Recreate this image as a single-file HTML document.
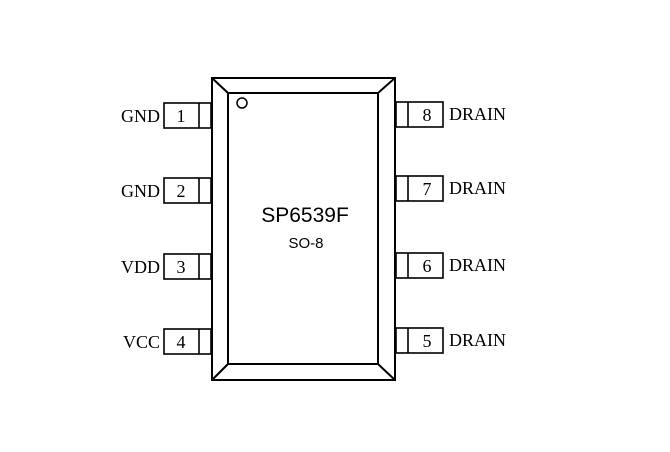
<!DOCTYPE html>
<html><head><style>body{margin:0;background:#fff}</style></head><body>
<svg width="670" height="452" xmlns="http://www.w3.org/2000/svg" style="display:block">
<g fill="none" stroke="#000" stroke-width="2">
<rect x="212" y="78" width="183" height="302"/>
<rect x="228" y="93" width="150" height="271"/>
<line x1="212" y1="78" x2="228" y2="93"/>
<line x1="395" y1="78" x2="378" y2="93"/>
<line x1="212" y1="380" x2="228" y2="364"/>
<line x1="395" y1="380" x2="378" y2="364"/>
<circle cx="242" cy="103" r="5" stroke-width="1.5"/>
<g stroke-width="1.6">
<rect x="164" y="103" width="47" height="25"/><line x1="199" y1="103" x2="199" y2="128"/>
<rect x="164" y="178" width="47" height="25"/><line x1="199" y1="178" x2="199" y2="203"/>
<rect x="164" y="254" width="47" height="25"/><line x1="199" y1="254" x2="199" y2="279"/>
<rect x="164" y="329" width="47" height="25"/><line x1="199" y1="329" x2="199" y2="354"/>
<rect x="396" y="102" width="47" height="25"/><line x1="408" y1="102" x2="408" y2="127"/>
<rect x="396" y="176" width="47" height="25"/><line x1="408" y1="176" x2="408" y2="201"/>
<rect x="396" y="253" width="47" height="25"/><line x1="408" y1="253" x2="408" y2="278"/>
<rect x="396" y="328" width="47" height="25"/><line x1="408" y1="328" x2="408" y2="353"/>
</g></g>
<g font-family="Liberation Serif, serif" font-size="18" fill="#000">
<text x="181" y="122" text-anchor="middle">1</text>
<text x="181" y="197" text-anchor="middle">2</text>
<text x="181" y="273" text-anchor="middle">3</text>
<text x="181" y="348" text-anchor="middle">4</text>
<text x="427" y="121" text-anchor="middle">8</text>
<text x="427" y="195" text-anchor="middle">7</text>
<text x="427" y="272" text-anchor="middle">6</text>
<text x="427" y="347" text-anchor="middle">5</text>
<text x="160" y="122" text-anchor="end">GND</text>
<text x="160" y="197" text-anchor="end">GND</text>
<text x="160" y="273" text-anchor="end">VDD</text>
<text x="160" y="348" text-anchor="end">VCC</text>
<text x="449" y="120">DRAIN</text>
<text x="449" y="194">DRAIN</text>
<text x="449" y="271">DRAIN</text>
<text x="449" y="346">DRAIN</text>
</g>
<g font-family="Liberation Sans, sans-serif" fill="#000" text-anchor="middle">
<text x="305" y="222" font-size="21">SP6539F</text>
<text x="306" y="248" font-size="15">SO-8</text>
</g>
</svg>
</body></html>
